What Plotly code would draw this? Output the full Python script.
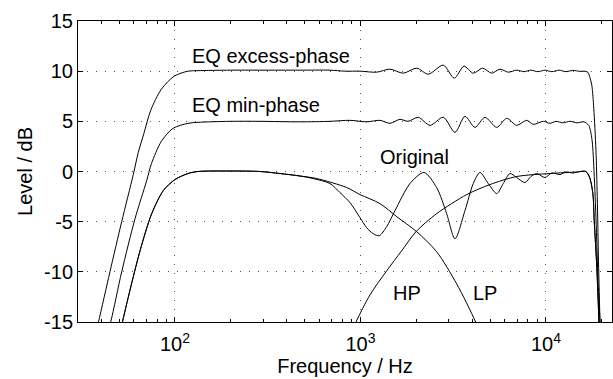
import math
import plotly.graph_objects as go

# ---------------- data ----------------
# EQ excess-phase response
excess_f = [36, 38.7, 44.6, 51.6, 59.6, 63.4, 68, 74, 84.4, 99, 117.5, 133, 198, 287, 472, 685, 825, 994,
            1223, 1442, 1701, 2009, 2321, 2796, 3204, 3614, 4056, 4558, 5097, 5649, 6264, 6950, 7611,
            8300, 9056, 9876, 10770, 11750, 12820, 13980, 15250, 16030, 16800, 17300, 17700, 18100,
            18600, 18900, 19200, 19550, 19800]
excess_db = [-17.5, -15, -10, -5, -0.3, 1.9, 3.8, 6.1, 8.2, 9.5, 10.0, 10.05, 10.1, 10.1, 10.1, 10.1, 10.0, 10.0,
             9.9, 10.2, 9.8, 10.3, 9.7, 10.6, 9.3, 10.5, 9.8, 10.3, 9.8, 10.2, 9.9, 10.1, 9.95,
             10.1, 9.95, 10.1, 9.95, 10.1, 9.95, 10.08, 9.98, 10.0, 9.9, 9.3, 8.5, 6.3,
             2.1, -2.5, -9, -15, -19]

# EQ min-phase response
minph_f = [41, 45, 51.6, 60.9, 70.4, 74.7, 84.4, 97.5, 117.5, 133, 198, 287, 472, 685, 878, 1080, 1274,
           1442, 1633, 1804, 2049, 2370, 2796, 3232, 3659, 4142, 4690, 5424, 6140, 6950, 7870, 8540,
           9672, 10510, 11320, 12350, 13470, 14690, 16030, 17000, 17700, 18100, 18600, 19100, 19550, 19800]
minph_db = [-17.5, -15, -10, -4.7, -0.9, 0.8, 3.0, 4.3, 4.8, 4.9, 5.0, 5.0, 4.95, 5.0, 5.1, 4.95, 5.1,
            4.8, 5.2, 5.0, 5.4, 4.6, 5.4, 3.9, 5.5, 4.4, 5.4, 4.4, 5.3, 4.6, 5.1, 4.7,
            5.0, 4.8, 5.0, 4.85, 5.0, 4.85, 4.95, 4.6, 3.2, 0.6, -4.6, -11, -15, -19]

# Original (sum of the two ways)
orig_f = [49, 52.1, 64.8, 74.9, 86.5, 100, 117.5, 133, 198, 287, 368, 472, 555, 685, 775, 878, 994, 1080,
          1172, 1263, 1384, 1535, 1849, 2199, 2575, 2915, 3232, 3659, 4056, 4408, 4887, 5424, 5886,
          6397, 6950, 7706, 8300, 8910, 9876, 10730, 11900, 12820, 13980, 15250, 16400, 17200, 17900,
          18200, 18800, 19300, 19600]
orig_db = [-17.5, -15, -7.9, -4.2, -1.9, -0.8, -0.2, 0.0, 0.05, 0.0, -0.2, -0.45, -0.7, -1.2, -2.1, -3.1, -4.6, -5.6,
           -6.2, -6.4, -5.5, -3.9, -1.2, -0.1, -1.6, -4.2, -6.7, -3.9, -1.2, -0.1, -1.2, -2.2, -1.2,
           -0.2, -0.6, -1.1, -0.5, -0.2, -0.6, -0.15, -0.3, -0.05, -0.15, 0.0, 0.0, -0.6, -2.2,
           -4.9, -9.6, -15, -19]

# Falling way (low-pass shape)
fall_f = [49, 52.1, 64.8, 74.9, 86.5, 100, 117.5, 133, 198, 287, 368, 472, 581, 843, 994, 1274, 1568, 2009,
          2575, 3301, 4178, 4991]
fall_db = [-17.5, -15, -7.9, -4.2, -1.9, -0.8, -0.2, 0.0, 0.05, 0.0, -0.2, -0.45, -0.7, -1.6, -2.3, -3.2, -4.5, -6.0,
           -8.0, -11.2, -15, -18.5]

# Rising way (high-pass shape)
rise_f = [825, 946, 1125, 1384, 1668, 1992, 2575, 3738, 4991, 6950, 10510, 14690, 16400, 17200, 17900,
          18200, 18800, 19300, 19600]
rise_db = [-17.5, -15, -12.3, -9.9, -7.9, -6.0, -4.2, -2.3, -1.3, -0.5, -0.2, -0.05, 0.0, -0.6, -2.2,
           -4.9, -9.6, -15, -19]

x_tickvals = [100, 1000, 10000]
x_ticktext = ["10<sup>2</sup>", "10<sup>3</sup>", "10<sup>4</sup>"]
y_tickvals = [-15, -10, -5, 0, 5, 10, 15]
y_ticktext = ["-15", "-10", "-5", "0", "5", "10", "15"]

labels = ["EQ excess-phase", "EQ min-phase", "Original", "HP", "LP"]

# ---------------- figure ----------------
FONT = "Liberation Sans, Arial, Helvetica, sans-serif"
fig = go.Figure()
line = dict(color="black", width=1, shape="spline", smoothing=0.8)
for fx, fy in [(fall_f, fall_db), (rise_f, rise_db), (orig_f, orig_db),
               (minph_f, minph_db), (excess_f, excess_db)]:
    fig.add_trace(go.Scatter(x=fx, y=fy, mode="lines", line=line, showlegend=False,
                             hoverinfo="skip"))

fig.update_layout(
    width=613, height=379,
    margin=dict(l=78, r=1, t=21, b=57),
    paper_bgcolor="white", plot_bgcolor="white",
    font=dict(family=FONT, size=20, color="black"),
    showlegend=False,
)
fig.update_xaxes(
    type="log", range=[math.log10(30), 4.356],
    tickvals=x_tickvals, ticktext=x_ticktext,
    ticks="inside", ticklen=5, tickcolor="black",
    showline=True, linecolor="black", linewidth=1, mirror="ticks",
    showgrid=True, gridcolor="#555", gridwidth=1, griddash="1px,8px",
    zeroline=False,
    minor=dict(ticks="inside", ticklen=3, dtick="D1", tickcolor="black", showgrid=False),
    ticklabelstandoff=4,
    title=dict(text="Frequency / Hz", standoff=3, font=dict(size=20)),
    tickfont=dict(size=20),
)
fig.update_yaxes(
    range=[-15, 15], tickvals=y_tickvals, ticktext=y_ticktext,
    ticks="inside", ticklen=5, tickcolor="black",
    showline=True, linecolor="black", linewidth=1, mirror="ticks",
    showgrid=True, gridcolor="#555", gridwidth=1, griddash="1px,8px",
    zeroline=False,
    title=dict(text="Level / dB", standoff=6, font=dict(size=20)),
    tickfont=dict(size=20),
)

ann_pos = [(2.081, 11.5, "left"), (2.081, 6.6, "left"), (3.096, 1.4, "left"),
           (3.249, -12.07, "center"), (3.67, -12.07, "center")]
for txt, (ax, ay, anc) in zip(labels, ann_pos):
    fig.add_annotation(x=ax, y=ay, xref="x", yref="y", text=txt, showarrow=False,
                       xanchor=anc, yanchor="middle", font=dict(size=20, family=FONT))

fig.write_html("out.html")
